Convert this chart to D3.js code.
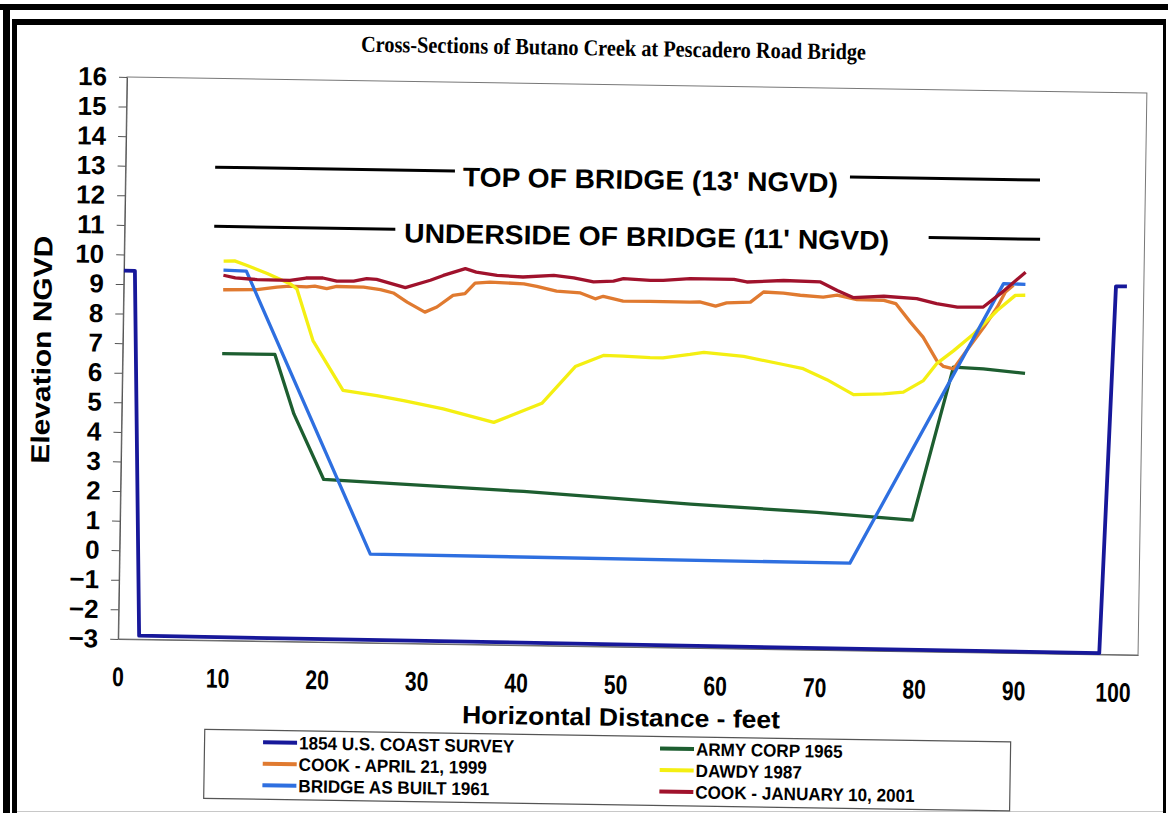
<!DOCTYPE html>
<html>
<head>
<meta charset="utf-8">
<script src="https://cdn.jsdelivr.net/npm/d3@7"></script>
<style>
  body { margin: 0; background: #fff; }
  svg { display: block; }
</style>
</head>
<body>
<script>
const width = 1168;
const height = 813;
const plot = { left: 127, top: 77, width: 1020, height: 562 };
const tilt = 0.9; // the scanned page sits a little crooked

const xTickValues = [0, 10, 20, 30, 40, 50, 60, 70, 80, 90, 100];
const yTickValues = [-3, -2, -1, 0, 1, 2, 3, 4, 5, 6, 7, 8, 9, 10, 11, 12, 13, 14, 15, 16];

// [distance ft, elevation NGVD]
const survey1854 = [[0, 9.45], [1.1, 9.45], [2.1, -2.88], [98.6, -2.96], [99.7, 9.45], [100.8, 9.45]];
const armyCorp1965 = [[10, 6.7], [15.3, 6.7], [17.3, 4.7], [20.4, 2.5], [23.7, 2.45], [40.5, 2.2], [57.3, 1.86], [70, 1.65], [79.6, 1.44], [83.5, 6.63], [86.5, 6.59], [90.7, 6.46]];
const cookApril1999 = [[10, 8.86], [13.4, 8.88], [15.4, 8.98], [16.7, 9.02], [18.4, 9.0], [19.2, 9.03], [20.4, 8.95], [21.4, 9.03], [24.1, 9.02], [25.8, 8.95], [27.1, 8.84], [28.5, 8.54], [30.3, 8.21], [31.5, 8.39], [33.1, 8.79], [34.3, 8.86], [35.3, 9.22], [36.8, 9.26], [40.2, 9.22], [41.5, 9.14], [43.5, 8.99], [45.9, 8.94], [47.4, 8.75], [48.2, 8.84], [50.2, 8.69], [52.9, 8.69], [56.9, 8.69], [57.9, 8.7], [59.5, 8.57], [60.6, 8.68], [63, 8.72], [64.3, 9.07], [66.3, 9.04], [68, 8.98], [70.3, 8.93], [71.7, 9.0], [73.7, 8.86], [76.4, 8.85], [77.6, 8.75], [79.1, 8.13], [80.4, 7.63], [81.8, 6.85], [82.5, 6.65], [83.5, 6.57], [84.8, 7.2], [86.5, 8.0], [87.8, 8.68], [88.6, 9.2], [89.4, 9.43]];
const dawdy1987 = [[10, 9.83], [11.1, 9.84], [12.3, 9.7], [14.4, 9.43], [16.7, 9.1], [17.4, 8.93], [19.1, 7.19], [22.2, 5.52], [25.6, 5.36], [28.3, 5.21], [32.3, 4.95], [37.4, 4.52], [42.2, 5.19], [45.5, 6.45], [48.3, 6.84], [50.3, 6.83], [53, 6.79], [54.3, 6.79], [57, 6.92], [58.4, 7.0], [62.4, 6.88], [66.4, 6.63], [68.4, 6.5], [70.8, 6.14], [73.5, 5.65], [76.5, 5.69], [78.5, 5.76], [80.5, 6.16], [81.8, 6.74], [83.5, 7.19], [85.5, 7.77], [87.8, 8.57], [89.6, 9.09], [90.6, 9.1]];
const bridge1961 = [[10, 9.52], [12.3, 9.5], [25.2, 0.0], [73.4, -0.05], [88.4, 9.48], [90.6, 9.47]];
const cookJan2001 = [[10, 9.35], [11.2, 9.27], [13.4, 9.22], [16.7, 9.21], [18.3, 9.3], [20, 9.31], [21.4, 9.21], [23.1, 9.22], [24.4, 9.31], [25.4, 9.29], [28.3, 9.03], [30.8, 9.29], [32.1, 9.46], [34.3, 9.7], [35.4, 9.59], [37.5, 9.49], [40.1, 9.45], [43.2, 9.52], [45.2, 9.45], [47.2, 9.32], [49.2, 9.36], [50.2, 9.45], [52.9, 9.4], [54.2, 9.41], [56.9, 9.48], [61.3, 9.48], [62.6, 9.4], [66.3, 9.47], [70, 9.44], [71.7, 9.16], [73.3, 8.93], [76.4, 8.99], [79.7, 8.93], [81.7, 8.77], [83.8, 8.66], [86.4, 8.68], [88.1, 9.14], [90.6, 9.88]];

const seriesNames = ['1854 U.S. COAST SURVEY', 'COOK - APRIL 21, 1999', 'BRIDGE AS BUILT 1961', 'ARMY CORP 1965', 'DAWDY 1987', 'COOK - JANUARY 10, 2001'];
const seriesData = [survey1854, cookApril1999, bridge1961, armyCorp1965, dawdy1987, cookJan2001];
const seriesColors = ['#17189a', '#e07a30', '#2e6fe0', '#1d5e30', '#f4ef12', '#a0122c'];

// bridge reference lines, drawn in pieces around the labels
const topOfBridge = 13;
const topOfBridgeSpans = [[9.0, 33.1], [72.8, 91.9]];
const undersideOfBridge = 11;
const undersideSpans = [[9.0, 27.2], [80.8, 92.0]];

const sans = '"Liberation Sans", Arial, sans-serif';

function main() {
  const svg = d3.select('body').append('svg').attr('width', width).attr('height', height);
  svg.append('rect').attr('width', width).attr('height', height).attr('fill', '#fff');

  drawFrame(svg);

  const g = svg.append('g').attr('transform', `rotate(${tilt}, ${plot.left}, ${plot.top})`);

  const x = d3.scaleLinear().domain([0, 102.5]).range([plot.left, plot.left + plot.width]);
  const y = d3.scaleLinear().domain([-3, 16]).range([plot.top + plot.height, plot.top]);

  drawPlotArea(g, x, y);
  drawBridgeLines(g, x, y);
  drawSeries(g, x, y);
  drawTexts(g);
  drawLegend(g);
}

function drawFrame(svg) {
  svg.append('rect').attr('x', 0).attr('y', 4).attr('width', width).attr('height', 6).attr('fill', '#000');
  svg.append('rect').attr('x', 3).attr('y', 4).attr('width', 7).attr('height', height).attr('fill', '#000');
  svg.append('rect').attr('x', 12).attr('y', 19).attr('width', 1154).attr('height', 6).attr('fill', '#000');
  svg.append('rect').attr('x', 12).attr('y', 19).attr('width', 5).attr('height', height).attr('fill', '#000');
  svg.append('rect').attr('x', 1163).attr('y', 19).attr('width', 3).attr('height', height).attr('fill', '#000');
  svg.append('line').attr('x1', 17).attr('x2', 1163).attr('y1', 811.5).attr('y2', 811.5).attr('stroke', '#c8c8c8');
}

function drawPlotArea(g, x, y) {
  g.append('rect')
    .attr('x', plot.left)
    .attr('y', plot.top)
    .attr('width', plot.width)
    .attr('height', plot.height)
    .attr('fill', 'none')
    .attr('stroke', '#777')
    .attr('stroke-width', 1);

  const yAxis = g.append('g')
    .attr('transform', `translate(${plot.left},0)`)
    .call(d3.axisLeft(y).tickValues(yTickValues).tickSize(8).tickSizeOuter(0).tickPadding(12));
  yAxis.select('.domain').attr('stroke', '#555');
  yAxis.selectAll('line').attr('stroke', '#555');
  yAxis.selectAll('text')
    .attr('fill', '#000')
    .style('font-family', sans)
    .style('font-weight', 'bold')
    .style('font-size', '26px');

  const xAxis = g.append('g')
    .attr('transform', `translate(0,${plot.top + plot.height})`)
    .call(d3.axisBottom(x).tickValues(xTickValues).tickSize(0).tickPadding(28));
  xAxis.select('.domain').attr('stroke', '#666');
  xAxis.selectAll('text')
    .attr('fill', '#000')
    .attr('transform', 'scale(0.78,1)')
    .style('font-family', sans)
    .style('font-weight', 'bold')
    .style('font-size', '27px');
}

function drawBridgeLines(g, x, y) {
  const spans = [
    ...topOfBridgeSpans.map(s => ({ s, v: topOfBridge })),
    ...undersideSpans.map(s => ({ s, v: undersideOfBridge }))
  ];
  g.selectAll('line.bridge')
    .data(spans)
    .enter()
    .append('line')
    .attr('class', 'bridge')
    .attr('x1', d => x(d.s[0]))
    .attr('x2', d => x(d.s[1]))
    .attr('y1', d => y(d.v))
    .attr('y2', d => y(d.v))
    .attr('stroke', '#000')
    .attr('stroke-width', 3);
}

function drawSeries(g, x, y) {
  const line = d3.line().x(d => x(d[0])).y(d => y(d[1]));
  const order = [0, 3, 1, 4, 2, 5];
  g.selectAll('path.series')
    .data(order)
    .enter()
    .append('path')
    .attr('class', 'series')
    .attr('d', i => line(seriesData[i]))
    .attr('fill', 'none')
    .attr('stroke', i => seriesColors[i])
    .attr('stroke-width', i => (i === 0 ? 3.8 : 3.3))
    .attr('stroke-linejoin', 'round');
}

function squeezedText(g, x, y, str, size, len) {
  return g.append('text')
    .attr('x', x)
    .attr('y', y)
    .attr('text-anchor', 'middle')
    .attr('textLength', len)
    .attr('lengthAdjust', 'spacingAndGlyphs')
    .style('font-family', sans)
    .style('font-weight', 'bold')
    .style('font-size', `${size}px`)
    .text(str);
}

function drawTexts(g) {
  g.append('text')
    .attr('x', 613)
    .attr('y', 48)
    .attr('text-anchor', 'middle')
    .attr('textLength', 505)
    .attr('lengthAdjust', 'spacingAndGlyphs')
    .style('font-family', '"Liberation Serif", "Times New Roman", serif')
    .style('font-weight', 'bold')
    .style('font-size', '23px')
    .text('Cross-Sections of Butano Creek at Pescadero Road Bridge');

  squeezedText(g, 652, 181, "TOP OF BRIDGE (13' NGVD)", 27, 375);
  squeezedText(g, 649, 238, "UNDERSIDE OF BRIDGE (11' NGVD)", 27, 485);
  squeezedText(g, 631, 718, 'Horizontal Distance - feet', 25, 318);

  g.append('text')
    .attr('transform', 'translate(55,351) rotate(-90)')
    .attr('text-anchor', 'middle')
    .attr('textLength', 228)
    .attr('lengthAdjust', 'spacingAndGlyphs')
    .style('font-family', sans)
    .style('font-weight', 'bold')
    .style('font-size', '26px')
    .text('Elevation NGVD');
}

function drawLegend(g) {
  const box = { x: 215, y: 728, w: 806, h: 69 };
  const rowStep = 21.5;
  const cols = [273.5, 670.5];

  g.append('rect')
    .attr('x', box.x)
    .attr('y', box.y)
    .attr('width', box.w)
    .attr('height', box.h)
    .attr('fill', '#fff')
    .attr('stroke', '#555')
    .attr('stroke-width', 1.2);

  const items = seriesNames.map((name, i) => ({
    name,
    color: seriesColors[i],
    cx: cols[Math.floor(i / 3)],
    cy: box.y + 12 + (i % 3) * rowStep
  }));

  const item = g.selectAll('g.legend-item')
    .data(items)
    .enter()
    .append('g')
    .attr('class', 'legend-item');

  item.append('line')
    .attr('x1', d => d.cx)
    .attr('x2', d => d.cx + 34)
    .attr('y1', d => d.cy)
    .attr('y2', d => d.cy)
    .attr('stroke', d => d.color)
    .attr('stroke-width', 4);

  item.append('text')
    .attr('transform', d => `translate(${d.cx + 36},${d.cy}) scale(0.95,1)`)
    .attr('dy', '0.36em')
    .style('font-family', sans)
    .style('font-weight', 'bold')
    .style('font-size', '18px')
    .text(d => d.name);
}

main();
</script>
</body>
</html>
